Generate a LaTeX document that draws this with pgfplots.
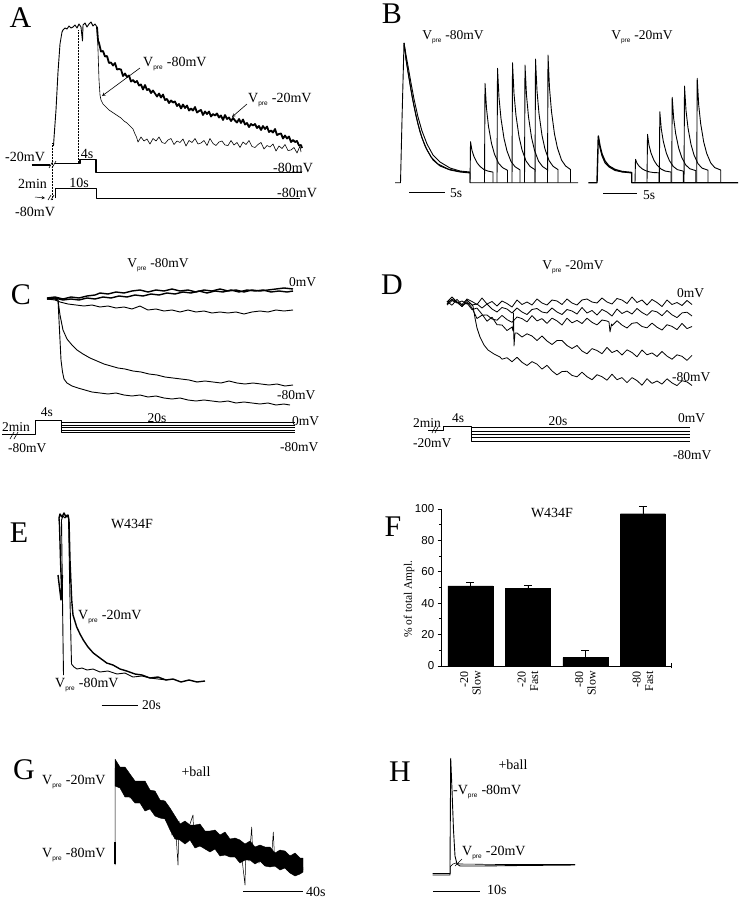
\documentclass[border=0pt]{standalone}
\usepackage{fontspec}
\setmainfont{Liberation Serif}
\setsansfont{Liberation Sans}
\usepackage{pgfplots}
\pgfplotsset{compat=1.18}
\newcommand{\Vp}{V\raisebox{-0.45ex}{\fontsize{6.5}{7}\selectfont\sffamily pre}\hspace{0.3em}}
\tikzset{lbl/.style={font=\fontsize{14}{16}\selectfont, inner sep=0pt},
  sml/.style={font=\fontsize{13.5}{15}\selectfont, inner sep=0pt},
  big/.style={font=\fontsize{30}{30}\selectfont, inner sep=0pt},
  tr/.style={black, line width=0.9pt, line join=round},
  trk/.style={black, line width=1.4pt, line join=round},
  th/.style={black, line width=0.6pt, line join=round}}
\begin{document}
\begin{tikzpicture}
\begin{axis}[scale only axis, width=739pt, height=900pt, xmin=0, xmax=739, ymin=0, ymax=900,
  y dir=reverse, hide axis, clip=false]
\path (axis cs:0,0) rectangle (axis cs:739,900);
% ================= A =================
\node[big] at (axis cs:20.5,17.5) {A};
\addplot[tr] coordinates {(53.5,146)(54,138)(56,110)(58,72)(60,44)(62,32)(63,30)(65,28)(67,29)(69,26)(71,28)(73,27)(75,25)(77,28)(79,24)(81,27)(82.5,41)(83,25)(85,23)(87,27)(89,24)(91,22)(93,26)(95,24)(97,27)};
\addplot[black, line width=1.8pt, line join=round] coordinates {(97,27)(98,40.5)(99,43)(101,51.5)(103,51)(105,56.5)(107,56)(109,63)(111,62.5)(113,65.5)(115,63)(117,69.5)(119,69)(121,69.5)(123,76)(125,73.5)(127,77)(129,75.5)(131,81.5)(133,80)(135,82.5)(137,81)(139,85.5)(141,84.5)(143,89.5)(145,85)(147,90)(149,89)(151,93)(153,90.5)(155,93.5)(157,96.5)(159,93.5)(161,97.5)(163,94.5)(165,100)(167,99)(169,103)(171,100.5)(173,102.5)(175,101.5)(177,106)(179,104)(181,108.5)(183,104.5)(185,108)(187,105.5)(189,110.5)(191,108.5)(193,110.5)(195,107)(197,112.5)(199,111)(201,110)(203,115)(205,111.5)(207,114)(209,111.5)(211,116.5)(213,114)(215,115.5)(217,113.5)(219,117.5)(221,115.5)(223,120)(225,115)(227,119)(229,117.5)(231,121)(233,118)(235,120.5)(237,122.5)(239,119)(241,123)(243,119.5)(245,124.5)(247,123)(249,127)(251,124)(253,125.5)(255,124)(257,128)(259,126)(261,130)(263,126)(265,129)(267,126.5)(269,132)(271,130.5)(273,132.5)(275,129)(277,135)(279,134)(281,133.5)(283,138.5)(285,135.5)(287,138.5)(289,136.5)(291,142)(293,140)(295,142)(297,141)(299,145.5)(301,145)(302,148)};
\addplot[th] coordinates {(97,27)(98,50)(99,80)(100,95)(101,100)(103,104)(106,107)(109,110)(112,112)(115,114)(118,116)(121,118)(124,121)(127,123)(130,126)(133,129)(135,134)(136.5,137)(138,142)(141,137)(144,141)(147,139)(150,144)(153,138.5)(156,141)(159,137)(162,142.5)(165,143.5)(168,140)(171,138.5)(174,144.5)(177,141)(180,142.5)(183,139)(186,146)(189,140.5)(192,142.5)(195,138.5)(198,144)(201,143)(204,140.5)(207,145.5)(210,138.5)(213,143.5)(216,145.5)(219,142)(222,141)(225,145)(228,145.5)(231,140.5)(234,145)(237,142.5)(240,147.5)(243,142)(246,144.5)(249,140.5)(252,146.5)(255,147.5)(258,144.5)(261,142.5)(264,149)(267,145.5)(270,147)(273,144)(276,151)(279,146)(282,148.5)(285,144.5)(288,150.5)(291,150)(294,147.5)(297,153)(300,146)(301,152)};
\addplot[black, densely dotted, line width=0.5pt] coordinates {(52,143)(52,200)};
\addplot[black, densely dotted, line width=0.5pt] coordinates {(78,30)(78,163)};
\addplot[trk] coordinates {(31.7,165)(50,165)};
\addplot[trk] coordinates {(55,163.3)(80,163.3)(80,159.3)(96,159.3)(96,172.7)(301.7,172.7)};
\addplot[th] coordinates {(49,168)(53,161)};
\addplot[th] coordinates {(52,168)(56,161)};
\addplot[th] coordinates {(55,198)(55,188)(96,188)(96,198)(300,198)};
\addplot[th] coordinates {(48,200)(51,195)};
\addplot[th] coordinates {(51,200)(54,195)};
\draw[->, >=stealth, line width=0.5pt] (axis cs:35,197) -- (axis cs:45,198);
\node[lbl, anchor=west] at (axis cs:143,64) {\Vp-80mV};
\draw[->, >=stealth, line width=0.6pt] (axis cs:140,68) -- (axis cs:102,96);
\node[lbl, anchor=west] at (axis cs:248,100) {\Vp-20mV};
\draw[->, >=stealth, line width=0.6pt] (axis cs:247,104) -- (axis cs:232,117);
\node[lbl, anchor=west] at (axis cs:5,156.7) {-20mV};
\node[lbl] at (axis cs:87,154) {4s};
\node[lbl, anchor=west] at (axis cs:273,168.3) {-80mV};
\node[lbl, anchor=west] at (axis cs:18,184) {2min};
\node[lbl] at (axis cs:79,183.3) {10s};
\node[lbl, anchor=west] at (axis cs:277,193.3) {-80mV};
\node[lbl, anchor=west] at (axis cs:15,211.7) {-80mV};
% ================= B =================
\node[big] at (axis cs:392,14) {B};
\node[sml] at (axis cs:453,37) {\Vp-80mV};
\node[sml] at (axis cs:642,37) {\Vp-20mV};
\addplot[tr] coordinates {(395,182.7)(400.5,182.7)(402,120)(404,43)(406,58)(408,72)(411,90)(414,106)(418,124)(422,138)(427,150)(433,160)(440,166)(450,170)(460,172)(470,173)(470,182.7)(578,182.7)};
\addplot[tr] coordinates {(404,43)(406,60)(409,78)(412,96)(416,116)(420,132)(425,146)(431,157)(438,164)(448,169)(460,171.5)(470,172.5)};
\addplot[tr] coordinates {(404,43)(406,55)(408,66)(411,83)(414,99)(418,117)(422,131)(427,144)(433,155)(440,162)(450,168)(460,171)(470,172)};
\addplot[tr] coordinates {(470,182.7)(470.3,160)(470.5,141.7)(472,150.5)(474,156.7)(477,162.7)(480,166.4)(484,169.6)(488,171.1)(493,172.1)(493,182.7)};
\addplot[tr] coordinates {(484.5,182.7)(485,83.3)(486.5,108.4)(488.5,126.4)(491.5,143.4)(494.5,154.2)(498.5,163.1)(502.5,167.6)(507.5,170.3)(507.5,182.7)};
\addplot[tr] coordinates {(497,182.7)(497.5,68.3)(499,97.6)(501,118.6)(504,138.4)(507,151.0)(511,161.5)(515,166.7)(520,169.9)(520,182.7)};
\addplot[tr] coordinates {(512,182.7)(512.5,62.7)(514,93.6)(516,115.6)(519,136.6)(522,149.8)(526,160.9)(530,166.4)(535,169.7)(535,182.7)};
\addplot[tr] coordinates {(524.5,182.7)(525,65)(526.5,95.2)(528.5,116.8)(531.5,137.4)(534.5,150.3)(538.5,161.1)(542.5,166.5)(547.5,169.8)(547.5,182.7)};
\addplot[tr] coordinates {(535,182.7)(535.5,59)(537,90.9)(539,113.7)(542,135.4)(545,149.1)(549,160.5)(553,166.2)(558,169.6)(558,182.7)};
\addplot[tr] coordinates {(547.5,182.7)(548,55)(549.5,88.0)(551.5,111.6)(554.5,134.1)(557.5,148.2)(561.5,160.0)(565.5,165.9)(570.5,169.5)(570.5,182.7)};
\addplot[tr] coordinates {(409,192.7)(445,192.7)};
\node[sml, anchor=west] at (axis cs:450,193) {5s};
\addplot[trk] coordinates {(588.3,182.7)(597,182.7)(598.3,136)(600,146)(602,154)(605,161)(609,166)(615,169.5)(622,171.5)(631.7,172.5)(631.7,182.7)(738,182.7)};
\addplot[tr] coordinates {(598.3,137)(600,148)(602,156)(605,163)(609,167)(615,170.5)(622,172)(631.7,173)};
\addplot[tr] coordinates {(635,182.7)(635.5,159.3)(637,163.2)(639,166.0)(642,168.7)(645,170.4)(649,171.8)(653,172.5)(659,172.8)(659,182.7)};
\addplot[tr] coordinates {(647,182.7)(647.5,134.3)(649,145.2)(651,153.0)(654,160.4)(657,165.1)(661,169.0)(665,171.0)(671,172.0)(671,182.7)};
\addplot[tr] coordinates {(659.3,182.7)(659.8,111.7)(661.3,129.0)(663.3,141.3)(666.3,153.0)(669.3,160.4)(673.3,166.5)(677.3,169.6)(683.3,171.1)(683.3,182.7)};
\addplot[tr] coordinates {(671.7,182.7)(672.2,97.3)(673.7,118.6)(675.7,133.8)(678.7,148.2)(681.7,157.3)(685.7,164.9)(689.7,168.7)(695.7,170.6)(695.7,182.7)};
\addplot[tr] coordinates {(684,182.7)(684.5,86)(686,110.4)(688,127.9)(691,144.5)(694,155.0)(698,163.7)(702,168.1)(708,170.2)(708,182.7)};
\addplot[tr] coordinates {(696.7,182.7)(697.2,78.3)(698.7,104.9)(700.7,123.9)(703.7,142.0)(706.7,153.4)(710.7,162.9)(714.7,167.6)(720.7,170.0)(720.7,182.7)};
\addplot[tr] coordinates {(603,193.3)(637,193.3)};
\node[sml, anchor=west] at (axis cs:643,195) {5s};
% ================= C =================
\node[big] at (axis cs:21,295) {C};
\node[sml] at (axis cs:158,265) {\Vp-80mV};
\addplot[trk] coordinates {(47,298)(55,297)(63,299)(71,297)(79,298)(87,296)(95,295)(100,293)(108,294)(116,292)(124,293)(132,291)(140,290)(148,292)(156,290)(164,291)(172,289)(180,291)(188,290)(196,292)(204,290)(212,291)(220,289)(228,291)(236,290)(244,292)(252,290)(260,291)(268,290)(276,289)(284,288)(293,289)};
\addplot[trk] coordinates {(47,299)(55,298)(63,300)(71,299)(79,300)(87,298)(95,299)(103,297)(111,298)(119,296)(127,297)(135,295)(143,296)(151,294)(159,295)(167,293)(175,294)(183,292)(191,293)(199,291)(207,293)(215,291)(223,292)(231,290)(239,292)(247,290)(255,291)(263,290)(271,292)(279,291)(287,292)(293,291)};
\addplot[tr] coordinates {(47,299)(55,300)(60,302)(68,304)(76,305)(84,306)(92,305)(100,307)(108,306)(116,308)(124,307)(132,309)(140,306)(148,310)(156,309)(164,311)(172,310)(180,312)(188,310)(196,312)(204,311)(212,313)(220,312)(228,313)(236,312)(244,314)(252,312)(260,311)(268,312)(276,310)(284,311)(293,310)};
\addplot[tr] coordinates {(47,299)(55,299)(58,300)(60,315)(63,330)(67,339)(72,345)(77,350)(83,354)(90,358)(97,361)(104,364)(111,366)(118,368)(125,369)(133,371)(141,372)(149,374)(157,375)(165,377)(173,378)(181,379)(189,380)(197,382)(205,381)(213,382)(221,383)(229,381)(237,383)(245,384)(253,383)(261,384)(269,385)(277,384)(285,386)(293,385)};
\addplot[tr] coordinates {(47,299)(55,299)(58,300)(59,320)(60,340)(61,360)(62.5,372)(64,379)(67,383)(72,386)(78,388)(85,390)(92,392)(100,393)(108,394)(116,393)(124,395)(132,396)(140,395)(148,397)(156,396)(164,398)(172,399)(180,398)(188,400)(196,401)(204,400)(212,401)(220,402)(228,401)(236,403)(244,402)(252,403)(260,404)(268,403)(276,405)(284,404)(290,405)};
\node[sml, anchor=west] at (axis cs:289,282) {0mV};
\node[sml, anchor=west] at (axis cs:277,395) {-80mV};
\addplot[tr] coordinates {(2,434)(35,434)(35,420)(61.7,420)(61.7,432.7)(295,432.7)};
\addplot[tr] coordinates {(61.7,422.7)(295,422.7)};
\addplot[tr] coordinates {(61.7,425)(295,425)};
\addplot[tr] coordinates {(61.7,427.3)(295,427.3)};
\addplot[tr] coordinates {(61.7,430)(295,430)};
\addplot[th] coordinates {(10,439)(14,432)};
\addplot[th] coordinates {(14,439)(18,432)};
\node[sml] at (axis cs:47,412) {4s};
\node[sml] at (axis cs:157,418) {20s};
\node[sml, anchor=west] at (axis cs:292,421) {0mV};
\node[sml, anchor=west] at (axis cs:2,427) {2min};
\node[sml, anchor=west] at (axis cs:8,448) {-80mV};
\node[sml, anchor=west] at (axis cs:280,447) {-80mV};
% ================= D =================
\node[big] at (axis cs:392,285) {D};
\node[sml] at (axis cs:573,267) {\Vp-20mV};
\addplot[black, line width=0.8pt, line join=round] coordinates {(447,302)(452,297)(457,302)(462,304.5)(467,299)(472,301.5)(477,304.5)(482,298)(487,304)(492,301.5)(497,306)(502,301)(507,303.5)(512,307)(517,300)(522,304.5)(527,302)(532,305)(537,299)(542,303)(547,305)(552,300)(557,301)(562,304.5)(567,299)(572,303)(577,305)(582,300)(587,299)(592,302)(597,303)(602,298)(607,302)(612,304)(617,298.5)(622,300)(627,303.5)(632,297)(637,302.5)(642,300)(647,305)(652,299.5)(657,302.5)(662,306.5)(667,300)(672,304.5)(677,302.5)(682,305.5)(687,300.5)(692,304.5)};
\addplot[black, line width=0.8pt, line join=round] coordinates {(447,304)(452,299)(457,302)(462,306.5)(467,300)(472,305)(477,304)(482,308)(487,304)(492,309)(497,312)(502,307.5)(507,309)(512,313)(517,308)(522,312)(527,314.5)(532,309.5)(537,308.5)(542,312)(547,313)(552,308)(557,312)(562,314.5)(567,309.5)(572,311)(577,314)(582,307.5)(587,313)(592,310.5)(597,315)(602,309.5)(607,312)(612,316)(617,309)(622,313.5)(627,311)(632,314)(637,308.5)(642,312.5)(647,315.3)(652,310.6)(657,311.9)(662,315.7)(667,310.5)(672,314.8)(677,317.6)(682,312.9)(687,312.2)(692,316)};
\addplot[black, line width=0.8pt, line join=round] coordinates {(447,305)(452,300.7)(457,302.3)(462,306.5)(467,301.6)(472,308)(477,318.5)(482,315.2)(487,315)(492,319)(497,320.2)(502,315.4)(507,319.6)(512,322.3)(517,317)(522,318.6)(527,321.9)(532,315.6)(537,320.9)(542,318.6)(547,323.4)(552,318.1)(557,320.9)(562,325)(567,318.2)(572,322.8)(577,320.4)(582,323.5)(587,318.2)(592,322.3)(597,324.9)(602,320)(607,321)(609,322)(610,332)(611.5,324)(612,325.7)(617,320.7)(622,325.1)(627,328)(632,323.3)(637,322.6)(642,326.5)(647,327.8)(652,323.1)(657,327.2)(662,330)(667,324.7)(672,326.4)(677,329.6)(682,323.4)(687,328.6)(692,326.5)};
\addplot[black, line width=0.8pt, line join=round] coordinates {(447,301.5)(452,305.2)(457,299.3)(462,305)(467,303.1)(472,309.6)(477,308.1)(482,314.2)(487,321.2)(492,317.2)(497,324.7)(502,325)(507,330.5)(512,327.1)(513,331)(513.5,313)(514,346)(515,333)(517,333)(522,337)(527,333.8)(532,336)(537,340.5)(542,336)(547,341)(552,344.5)(557,340.5)(562,340.5)(567,345.5)(572,348.5)(577,345.5)(582,351)(587,353.8)(592,348.6)(597,350.5)(602,353.7)(607,347.4)(612,352.6)(617,350.3)(622,355)(627,349.8)(632,352.5)(637,356.8)(642,350)(647,354.8)(652,352.9)(657,356.5)(662,351.5)(667,356.1)(672,359.2)(677,354.8)(682,356.3)(687,360.4)(692,355.3)};
\addplot[black, line width=0.8pt, line join=round] coordinates {(447,302)(452,300)(457,303)(462,301)(467,304)(470,303)(473,306)(475,318)(477,328)(480,337)(484,345)(488,350)(494,354)(500,357)(502,359.2)(507,357.7)(512,361.7)(517,357.3)(522,362.3)(527,365.5)(532,361.6)(537,364.1)(542,369.1)(547,365.3)(552,370.9)(557,374.9)(562,371.5)(567,371.3)(572,375.4)(577,376.8)(582,372.2)(587,376.7)(592,379.7)(597,374.7)(602,376.7)(607,380.2)(612,374.2)(617,379.7)(622,377.6)(627,382.6)(632,377.6)(637,380.6)(642,385.2)(647,378.7)(652,383.4)(657,381)(662,384.1)(667,378.8)(672,382.9)(677,385.6)(682,380.7)(687,381.9)(692,385.5)};
\node[sml, anchor=west] at (axis cs:677,293) {0mV};
\node[sml, anchor=west] at (axis cs:672,377) {-80mV};
\addplot[tr] coordinates {(428,430)(443.3,430)(443.3,426.7)(471.7,426.7)(471.7,441)(690,441)};
\addplot[tr] coordinates {(471.7,427.7)(690,427.7)};
\addplot[tr] coordinates {(471.7,431)(690,431)};
\addplot[tr] coordinates {(471.7,434.3)(690,434.3)};
\addplot[tr] coordinates {(471.7,437.7)(690,437.7)};
\addplot[th] coordinates {(432,433)(435,427)};
\addplot[th] coordinates {(435,433)(438,427)};
\node[sml, anchor=west] at (axis cs:413,423) {2min};
\node[sml] at (axis cs:458,418) {4s};
\node[sml] at (axis cs:558,420.7) {20s};
\node[sml, anchor=west] at (axis cs:678,418) {0mV};
\node[sml, anchor=west] at (axis cs:413,443) {-20mV};
\node[sml, anchor=west] at (axis cs:673,455) {-80mV};
% ================= E =================
\node[big] at (axis cs:19,533) {E};
\node[lbl] at (axis cs:132,524) {W434F};
\addplot[trk] coordinates {(62,600)(60.5,560)(59.5,525)(59,518)(60,514)(62,517)(64,513)(66,517)(68,515)(69,520)(70,560)(71.7,600)(73,615)(76.7,627)(80,634)(83.3,640)(88,647)(93.3,653)(100,658)(106.7,663)(113,665)(120,669)(126.7,671)(135,674)(142,675)(150,678)(158,677)(166,680)(173,679)(181,682)(189,680)(197,682)(205,681)};
\addplot[tr] coordinates {(63.5,675)(63,640)(62.5,600)(62,560)(61.5,520)(63,516)(65,518)(67,515)(68.5,518)(70,600)(71.5,664)(74,667)(77,669)(82,668)(87,670)(93,669)(100,672)(108,671)(117,674)(125,673)(133,677)(142,676)(150,678)(158,679)(167,680)};
\addplot[trk] coordinates {(58,575)(61,600)(62.5,575)};
\node[lbl, anchor=west] at (axis cs:78,617) {\Vp-20mV};
\node[lbl, anchor=west] at (axis cs:55,685) {\Vp-80mV};
\addplot[tr] coordinates {(101.7,705)(138.3,705)};
\node[sml, anchor=west] at (axis cs:142,705) {20s};
% ================= F labels =================
\node[big] at (axis cs:393,527) {F};
\node[lbl] at (axis cs:552,513) {W434F};
\node[rotate=90, font=\fontsize{11.5}{12}\selectfont, inner sep=0pt] at (axis cs:409,599) {\% of total Ampl.};
\coordinate (Fo) at (axis cs:441.7,666);
% ================= G =================
\node[big] at (axis cs:24,770) {G};
\node[lbl, anchor=west] at (axis cs:42,782) {\Vp-20mV};
\node[lbl, anchor=west] at (axis cs:42,855) {\Vp-80mV};
\node[lbl] at (axis cs:196,772) {+ball};
\addplot[fill=black, draw=black, line width=0.4pt, line join=round] coordinates {(115,759)(120,767)(125,767)(130,774)(135,781)(140,781)(145,781)(150,790)(155,791)(160,800)(165,801)(170,808)(175,816)(180,824)(185,821)(190,825)(195,825)(200,824)(205,831)(210,831)(215,830)(220,835)(225,832)(230,839)(235,838)(240,840)(245,844)(250,841)(255,847)(260,845)(265,847)(270,847)(275,853)(280,850)(285,851)(290,856)(295,853)(300,858)(303,858)(303,872)(300,874)(295,876)(290,873)(285,868)(280,870)(275,866)(270,867)(265,866)(260,861)(255,864)(250,860)(245,860)(240,863)(235,857)(230,857)(225,855)(220,856)(215,849)(210,852)(205,849)(200,846)(195,848)(190,840)(185,844)(180,840)(175,839)(170,830)(165,819)(160,818)(155,816)(150,809)(145,811)(140,803)(135,803)(130,797)(125,797)(120,788)(115,786)(115,759)};
\addplot[black, line width=0.5pt, line join=round] coordinates {(115,865)(115,770)(116,762)(118,786)(121,768)(124,793)(127,773)(130,798)(133,779)(136,801)(139,784)(142,805)(145,787)(148,809)(151,791)(154,812)(157,795)(160,816)(163,800)(166,821)(169,808)(172,835)(175,819)(178,865)(179,821)(181,841)(184,822)(187,842)(190,824)(193,815)(194,844)(197,826)(200,846)(203,829)(206,848)(209,831)(212,850)(215,833)(218,852)(221,835)(224,854)(227,837)(230,856)(233,839)(236,857)(239,841)(242,859)(245,885)(246,844)(249,861)(251.7,827)(253,862)(256,847)(259,863)(262,848)(265,865)(268,849)(271,866)(273.3,832)(275,867)(278,851)(281,868)(284,853)(287,870)(290,855)(293,872)(296,857)(299,874)(302,859)(303,870)};
\addplot[black, line width=2pt] coordinates {(115,842)(115,864)};
\addplot[tr] coordinates {(243,891.7)(303,891.7)};
\node[lbl, anchor=west] at (axis cs:306,892) {40s};
% ================= H =================
\node[big] at (axis cs:400,772) {H};
\node[lbl] at (axis cs:513,765) {+ball};
\node[lbl, anchor=west] at (axis cs:453,792) {-\Vp-80mV};
\node[lbl, anchor=west] at (axis cs:462,853) {\Vp-20mV};
\addplot[tr] coordinates {(432.7,875)(450,875)(450,867)(450.7,758.3)(452,790)(453.5,830)(455,856)(457,864)(460,866)(480,866)(520,865.5)(575,865)};
\addplot[th] coordinates {(432.7,873.5)(450.3,873.5)(450.3,866.5)(453,864)(456,863)(460,864)(500,864.5)(575,864.5)};
\addplot[th] coordinates {(462,859)(455,866)};
\addplot[tr] coordinates {(433,891.7)(480,891.7)};
\node[lbl, anchor=west] at (axis cs:487,890) {10s};
\end{axis}
% ================= F axis =================
\begin{axis}[name=Fax, at={(Fo)}, anchor=south west, scale only axis, width=230pt, height=157pt,
  xmin=0.5, xmax=4.5, ymin=0, ymax=100, clip=false,
  axis x line=bottom, axis y line=left, axis line style={-, line width=0.8pt},
  ybar, bar width=45pt,
  xtick={1,2,3,4}, xticklabels={{-20\\Slow},{-20\\Fast},{-80\\Slow},{-80\\Fast}},
  xticklabel style={rotate=90, anchor=east, align=right, font=\fontsize{12}{12.5}\selectfont, inner sep=1pt},
  x tick style={draw=none},
  ytick={0,20,...,100}, minor y tick num=1,
  yticklabel style={font=\sffamily\fontsize{11.5}{12}\selectfont},
  /pgf/number format/assume math mode=true,
  tick align=outside, major tick length=4pt, minor tick length=2.5pt,
  y tick style={line width=0.8pt, black},
]
\addplot[fill=black, draw=black, error bars/.cd, y dir=plus, y explicit,
  error bar style={line width=0.8pt, black},
  error mark options={rotate=90, mark size=4pt, line width=0.8pt, black}]
  coordinates {(1,51) +- (0,2.5) (2,49.5) +- (0,2) (3,5.3) +- (0,4.7) (4,97) +- (0,4.5)};
\end{axis}
\draw[line width=0.8pt] ([yshift=-2.5pt]Fax.south east) -- ([yshift=2.5pt]Fax.south east);
\end{tikzpicture}
\end{document}
